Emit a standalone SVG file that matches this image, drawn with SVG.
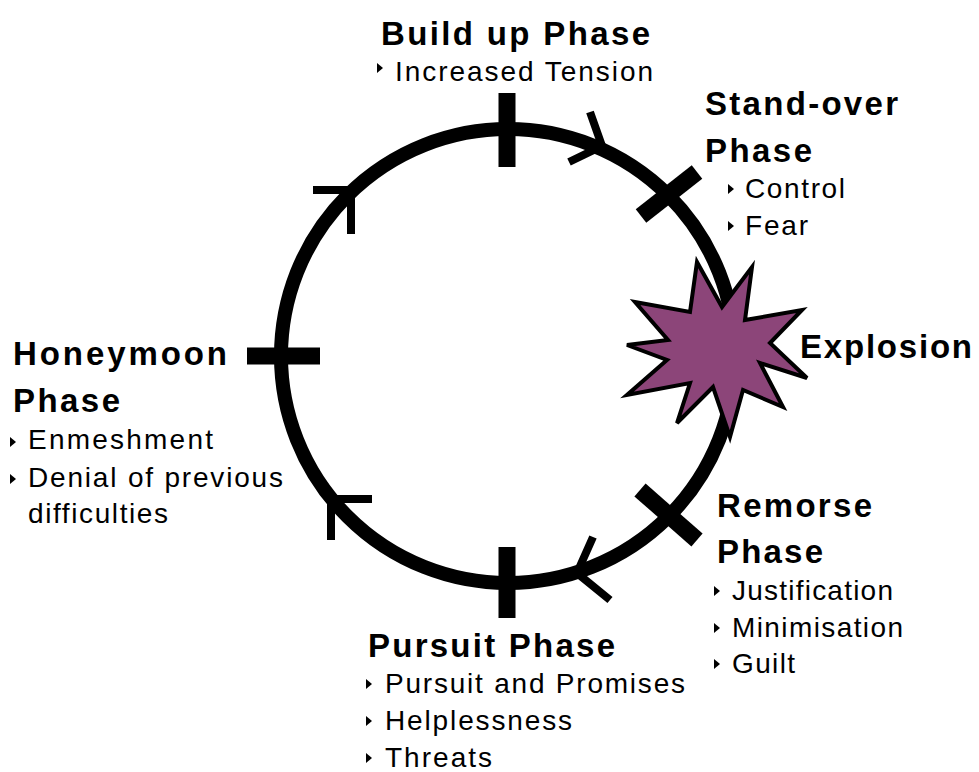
<svg xmlns="http://www.w3.org/2000/svg" width="979" height="772" viewBox="0 0 979 772">
<style>
.h{font-family:"Liberation Sans",Arial,sans-serif;font-weight:bold;font-size:33px;fill:#000}
.b{font-family:"Liberation Sans",Arial,sans-serif;font-size:28px;fill:#000}
.bul{fill:#000}
.tick{stroke:#000;stroke-width:17;fill:none}
.arr{stroke:#000;stroke-width:8;fill:none;stroke-linecap:butt;stroke-linejoin:miter}
</style>
<rect width="979" height="772" fill="#fff"/>
<g id="connectors">
<circle cx="508" cy="356" r="227" fill="none" stroke="#000" stroke-width="14"/>
<path class="arr" d="M590,112 L602,146 L569,162"/>
<path class="arr" d="M313,190 L351,190 L351,234"/>
<path class="arr" d="M372,499 L331,499 L331,540"/>
<path class="arr" d="M593,537 L577,573 L610,600"/>
</g>
<g id="buildup">
<line class="tick" x1="507" y1="93" x2="507" y2="167"/>
<text class="h" x="381" y="45" textLength="269">Build up Phase</text>
<polygon class="bul" points="377,63 383,68 377,73"/>
<text class="b" x="395" y="81" textLength="258">Increased Tension</text>
</g>
<g id="standover">
<line class="tick" x1="641" y1="216" x2="697" y2="172"/>
<text class="h" x="705" y="115" textLength="193">Stand-over</text>
<text class="h" x="705" y="162" textLength="107">Phase</text>
<polygon class="bul" points="728,184 734,189 728,194"/>
<text class="b" x="745" y="198" textLength="100">Control</text>
<polygon class="bul" points="728,221 734,226 728,231"/>
<text class="b" x="745" y="235" textLength="63">Fear</text>
</g>
<g id="explosion">
<polygon points="697,262 722,307 752,267 745,320 802,310 770,343 807,378 760,363 783,407 743,390 730,437 713,387 677,423 690,383 627,395 667,360 627,345 668,340 635,302 690,312" fill="#8c4579" stroke="#000" stroke-width="4" stroke-linejoin="miter"/>
<text class="h" x="800" y="358" textLength="172">Explosion</text>
</g>
<g id="remorse">
<line class="tick" x1="640" y1="490" x2="697" y2="540"/>
<text class="h" x="717" y="517" textLength="155">Remorse</text>
<text class="h" x="717" y="563" textLength="106">Phase</text>
<polygon class="bul" points="714,586 720,591 714,596"/>
<text class="b" x="732" y="600" textLength="161">Justification</text>
<polygon class="bul" points="714,623 720,628 714,633"/>
<text class="b" x="732" y="637" textLength="171">Minimisation</text>
<polygon class="bul" points="714,659 720,664 714,669"/>
<text class="b" x="732" y="673" textLength="63">Guilt</text>
</g>
<g id="pursuit">
<line class="tick" x1="507" y1="547" x2="507" y2="618"/>
<text class="h" x="368" y="657" textLength="247">Pursuit Phase</text>
<polygon class="bul" points="366,679 372,684 366,689"/>
<text class="b" x="385" y="693" textLength="300">Pursuit and Promises</text>
<polygon class="bul" points="366,716 372,721 366,726"/>
<text class="b" x="385" y="730" textLength="187">Helplessness</text>
<polygon class="bul" points="366,753 372,758 366,763"/>
<text class="b" x="385" y="767" textLength="107">Threats</text>
</g>
<g id="honeymoon">
<line class="tick" x1="247" y1="356" x2="320" y2="356"/>
<text class="h" x="13" y="365" textLength="214">Honeymoon</text>
<text class="h" x="13" y="412" textLength="107">Phase</text>
<polygon class="bul" points="10,437 16,442 10,447"/>
<text class="b" x="28" y="449" textLength="185">Enmeshment</text>
<polygon class="bul" points="10,474 16,479 10,484"/>
<text class="b" x="28" y="487" textLength="255">Denial of previous</text>
<text class="b" x="28" y="523" textLength="140">difficulties</text>
</g>
</svg>
